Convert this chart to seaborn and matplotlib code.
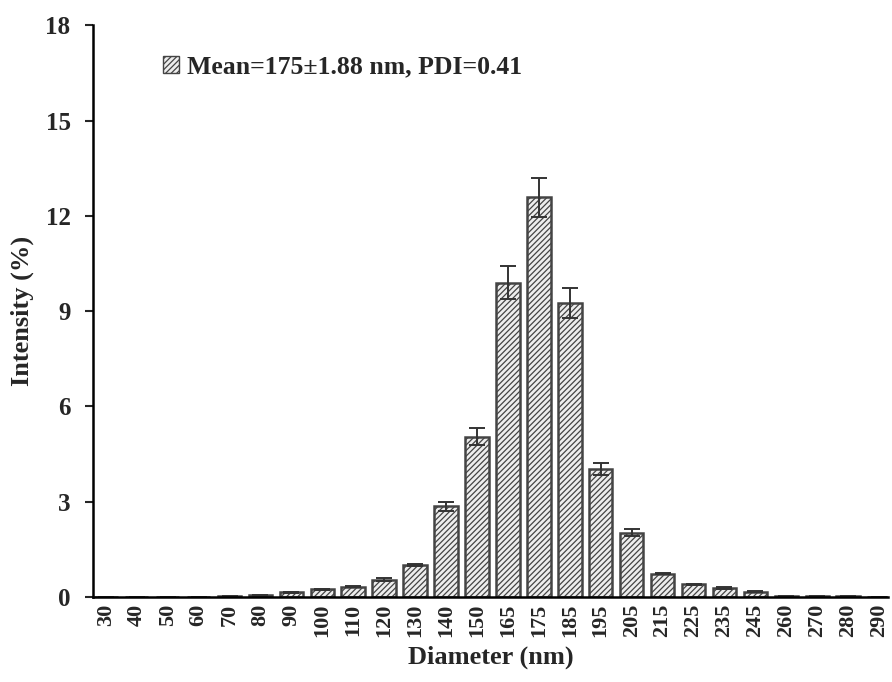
import numpy as np
import pandas as pd
import matplotlib
matplotlib.use('Agg')
import matplotlib.pyplot as plt
import matplotlib.patches as mpatches
import seaborn as sns

diameters = ['30', '40', '50', '60', '70', '80', '90', '100', '110', '120', '130',
             '140', '150', '165', '175', '185', '195', '205', '215', '225', '235',
             '245', '260', '270', '280', '290']
intensity = [0.0, 0.0, 0.0, 0.0, 0.02, 0.05, 0.15, 0.24, 0.32, 0.55, 1.0,
             2.85, 5.05, 9.9, 12.58, 9.25, 4.03, 2.03, 0.74, 0.4, 0.28,
             0.17, 0.03, 0.02, 0.02, 0.0]
errors = [0.0, 0.0, 0.0, 0.0, 0.0, 0.01, 0.02, 0.02, 0.02, 0.04, 0.03,
          0.15, 0.27, 0.52, 0.62, 0.47, 0.2, 0.12, 0.02, 0.02, 0.02,
          0.02, 0.0, 0.0, 0.0, 0.0]
legend_label = 'Mean=175\u00b11.88 nm, PDI=0.41'

df = pd.DataFrame({'Diameter': diameters, 'Intensity': intensity, 'err': errors})

sns.set_style('white')
plt.rcParams['font.family'] = ['Liberation Serif', 'DejaVu Serif']
plt.rcParams['font.weight'] = 'bold'
plt.rcParams['hatch.linewidth'] = 0.9
plt.rcParams['hatch.color'] = '#444444'

fig = plt.figure(figsize=(8.92, 6.82), dpi=100)
ax = fig.add_axes([0.104, 0.1246, 0.892, 0.8384])

sns.barplot(data=df, x='Diameter', y='Intensity', order=diameters, color='#ededed',
            width=0.76, edgecolor='#444444', linewidth=1.8, ax=ax, errorbar=None)
for p in ax.patches:
    p.set_hatch('//////')

xpos = np.arange(len(diameters))
ax.errorbar(xpos, df['Intensity'], yerr=df['err'], fmt='none', ecolor='#333333',
            elinewidth=1.4, capsize=6, capthick=1.4)

ax.set_ylim(0, 18)
ax.set_yticks(np.arange(0, 19, 3))
ax.set_xlim(-0.42, 25.3)
ax.set_xlabel('Diameter (nm)', fontsize=19, fontweight='bold', labelpad=6)
ax.set_ylabel('Intensity (%)', fontsize=19, fontweight='bold', labelpad=8)
ax.tick_params(axis='x', rotation=90, labelsize=16, length=0, pad=5)
ax.tick_params(axis='y', labelsize=18, length=6, width=1.5, direction='out', left=True, pad=10)
for lab in ax.get_xticklabels() + ax.get_yticklabels():
    lab.set_fontweight('bold')

for s in ['top', 'right']:
    ax.spines[s].set_visible(False)
for s in ['left', 'bottom']:
    ax.spines[s].set_color('black')
    ax.spines[s].set_linewidth(1.8)

handle = mpatches.Patch(facecolor='#ededed', edgecolor='#444444', hatch='//////', label=legend_label)
ax.legend(handles=[handle], loc='upper left', bbox_to_anchor=(0.075, 0.965), frameon=False,
          prop={'size': 18.5, 'weight': 'bold'}, handlelength=0.65, handleheight=0.65,
          handletextpad=0.3, borderaxespad=0)

fig.savefig('out.png', dpi=100)
